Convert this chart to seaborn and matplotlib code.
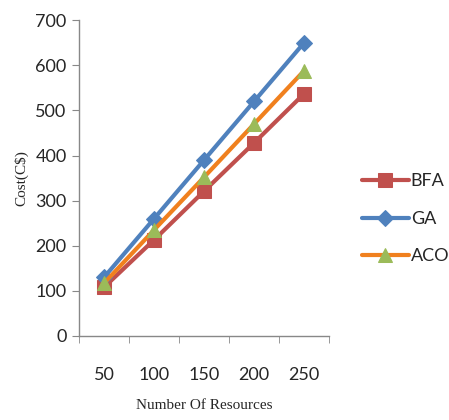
import matplotlib
matplotlib.use("Agg")
import matplotlib.pyplot as plt
import seaborn as sns
import pandas as pd

# --- data ---
resources = [50, 100, 150, 200, 250]
bfa = [108, 213, 321, 428, 537]
ga = [130, 260, 390, 520, 650]
aco = [117, 235, 352, 470, 588]

df = pd.DataFrame({"resources": resources, "BFA": bfa, "GA": ga, "ACO": aco})

sns.set_style("white")
plt.rcParams['font.family'] = ['Lato', 'DejaVu Sans']

fig = plt.figure(figsize=(4.49, 4.2), dpi=100)
ax = fig.add_axes([0.176, 0.2, 0.557, 0.752])

# series: (name, line colour, marker, marker colour, marker size)
series = [
    ("BFA", "#C0504D", "s", "#C0504D", 10),
    ("GA", "#4F81BD", "D", "#4F81BD", 8),
    ("ACO", "#F0801E", "^", "#9BBB59", 10),
]
for name, lc, mk, mc, ms in series:
    sns.lineplot(data=df, x="resources", y=name, ax=ax, color=lc, linewidth=3,
                 marker=mk, markersize=ms, markerfacecolor=mc, markeredgecolor=mc,
                 label=name)

ax.set_xlim(25, 275)
ax.set_ylim(0, 700)
ax.set_yticks(range(0, 701, 100))
ax.set_xticks(resources)
ax.set_xticks(range(25, 276, 50), minor=True)
ax.tick_params(axis="x", which="major", length=0, pad=22, labelsize=13)
ax.tick_params(axis="x", which="minor", length=5, color="#888888", bottom=True)
ax.tick_params(axis="y", length=5, color="#888888", left=True, labelsize=13, pad=4)

for s in ["top", "right"]:
    ax.spines[s].set_visible(False)
for s in ["left", "bottom"]:
    ax.spines[s].set_color("#888888")
    ax.spines[s].set_linewidth(1)

ax.set_xlabel("Number Of Resources", family="Liberation Serif", fontsize=11, labelpad=12)
ax.set_ylabel("Cost(C\\$)", family="Liberation Serif", fontsize=11, labelpad=5)

ax.get_legend().remove()
handles, labels = ax.get_legend_handles_labels()
fig.legend(handles, labels, loc="center left", bbox_to_anchor=(0.77, 0.479),
           frameon=False, fontsize=13, handlelength=2.6, labelspacing=1.2,
           handletextpad=0.1)

fig.savefig("out.png", dpi=100)
